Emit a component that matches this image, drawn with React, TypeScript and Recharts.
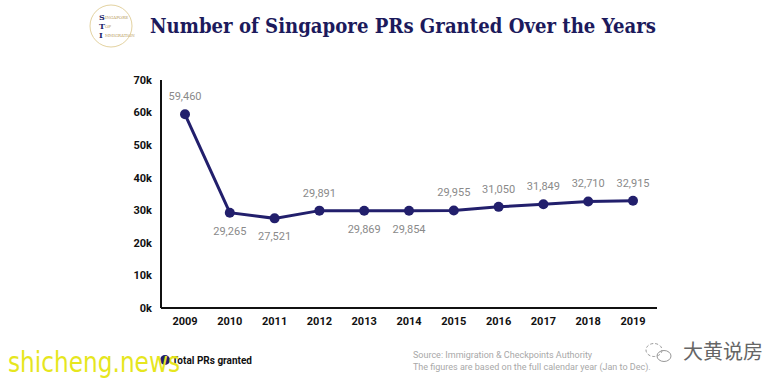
import { LineChart, Line, XAxis, YAxis, LabelList } from 'recharts'

const years = ['2009', '2010', '2011', '2012', '2013', '2014', '2015', '2016', '2017', '2018', '2019']
const prsGranted = [59460, 29265, 27521, 29891, 29869, 29854, 29955, 31050, 31849, 32710, 32915]
const labelBelow = [false, true, true, false, true, true, false, false, false, false, false]
const yTicks = [0, 10000, 20000, 30000, 40000, 50000, 60000, 70000]

const NAVY = '#221f6c'

const data = years.map((year, i) => ({ year, total: prsGranted[i] }))

const PointLabel = (props: any) => {
  const { x, y, value, index } = props
  const below = labelBelow[index]
  return (
    <text
      x={x}
      y={below ? y + 22 : y - 14}
      textAnchor="middle"
      fill="#8a8a8a"
      fontSize={11}
      fontFamily="Roboto, sans-serif"
    >
      {Number(value).toLocaleString('en-US')}
    </text>
  )
}

export default function App() {
  return (
    <div style={{ position: 'absolute', left: 0, top: 0, width: 779, height: 383, background: '#fff' }}>
      <LineChart
        width={779}
        height={383}
        data={data}
        margin={{ top: 80, right: 122, left: 121, bottom: 45 }}
      >
        <XAxis
          dataKey="year"
          axisLine={{ stroke: '#111', strokeWidth: 2 }}
          tickLine={false}
          tickSize={0}
          tickMargin={9}
          height={30}
          padding={{ left: 24, right: 24 }}
          tick={{ fill: '#111', fontSize: 11, fontWeight: 700, fontFamily: 'Roboto, sans-serif' }}
          interval={0}
        />
        <YAxis
          domain={[0, 70000]}
          ticks={yTicks}
          tickFormatter={(v: number) => `${v / 1000}k`}
          axisLine={{ stroke: '#111', strokeWidth: 2 }}
          tickLine={false}
          tickSize={0}
          tickMargin={9}
          width={40}
          tick={{ fill: '#111', fontSize: 11, fontWeight: 700, fontFamily: 'Roboto, sans-serif' }}
        />
        <Line
          type="linear"
          dataKey="total"
          name="Total PRs granted"
          stroke={NAVY}
          strokeWidth={3}
          dot={{ r: 5, fill: NAVY, stroke: NAVY, strokeWidth: 0 }}
          isAnimationActive={false}
        >
          <LabelList dataKey="total" content={<PointLabel />} />
        </Line>
      </LineChart>

      <svg width={779} height={383} style={{ position: 'absolute', left: 0, top: 0, pointerEvents: 'none' }}>
        {/* logo */}
        <circle cx={111} cy={26} r={21} fill="none" stroke="#e3d2a0" strokeWidth={1} />
        <path d="M 104 5 A 21 21 0 1 0 131 41 A 19 19 0 1 1 104 5 Z" fill="#c9a45a" />
        <text x={99} y={20} fontSize={8} fontFamily="DejaVu Serif, serif" fontWeight={700} fill={NAVY}>S</text>
        <text x={99} y={29} fontSize={8} fontFamily="DejaVu Serif, serif" fontWeight={700} fill={NAVY}>T</text>
        <text x={99} y={38} fontSize={8} fontFamily="DejaVu Serif, serif" fontWeight={700} fill={NAVY}>I</text>
        <text x={105} y={19} fontSize={4} fontFamily="DejaVu Serif, serif" fill="#b89a5a">INGAPORE</text>
        <text x={105} y={28} fontSize={4} fontFamily="DejaVu Serif, serif" fill="#b89a5a">OP</text>
        <text x={105} y={37} fontSize={4} fontFamily="DejaVu Serif, serif" fill="#b89a5a">MMIGRATION</text>

        {/* title */}
        <text
          x={150}
          y={33}
          fontSize={21}
          fontWeight={700}
          fontFamily="'DejaVu Serif', serif"
          fill="#1c1a5c"
          textLength={506}
          lengthAdjust="spacingAndGlyphs"
        >
          Number of Singapore PRs Granted Over the Years
        </text>

        {/* legend */}
        <circle cx={165} cy={360} r={5} fill={NAVY} />
        <text x={172} y={364} fontSize={11} fontWeight={700} fontFamily="Roboto, sans-serif" fill="#111" textLength={80} lengthAdjust="spacingAndGlyphs">
          Total PRs granted
        </text>

        {/* source */}
        <text x={413} y={358} fontSize={9} fontFamily="Roboto, sans-serif" fill="#a8a8a8">
          Source: Immigration &amp; Checkpoints Authority
        </text>
        <text x={413} y={370} fontSize={9} fontFamily="Roboto, sans-serif" fill="#a8a8a8">
          The figures are based on the full calendar year (Jan to Dec).
        </text>

        {/* watermarks */}
        <text
          x={8}
          y={372}
          fontSize={29}
          fontFamily="'DejaVu Sans', sans-serif"
          fill="#e6e61e"
          textLength={172}
          lengthAdjust="spacingAndGlyphs"
        >
          shicheng.news
        </text>
        <ellipse cx={654} cy={350} rx={8} ry={6.5} fill="none" stroke="#999" strokeWidth={1} strokeDasharray="3 2" />
        <ellipse cx={664} cy={356} rx={7} ry={5.5} fill="none" stroke="#999" strokeWidth={1} />
        <text x={683} y={359} fontSize={20} fontFamily="'Noto Sans CJK SC', sans-serif" fill="#666">
          大黄说房
        </text>
      </svg>
    </div>
  )
}
